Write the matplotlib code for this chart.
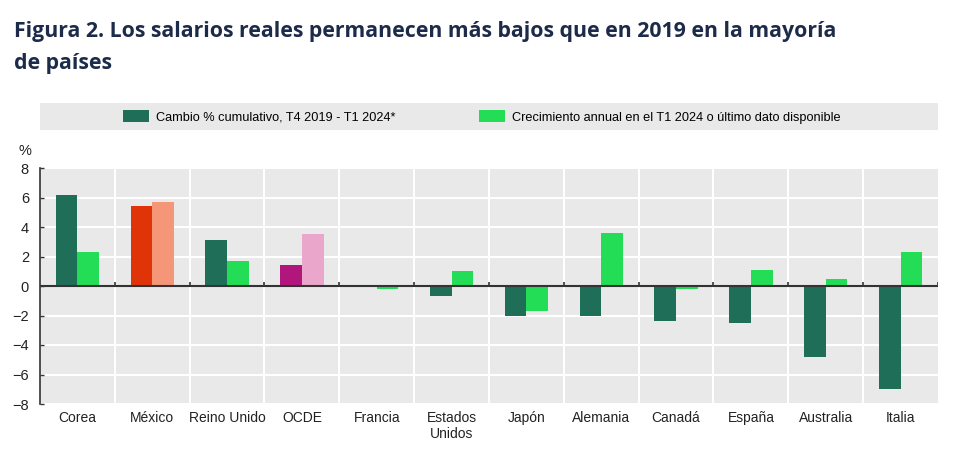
import matplotlib
matplotlib.use('Agg')
from matplotlib import pyplot as plt
from matplotlib.patches import Rectangle, Patch
import numpy as np

# values
countries = ['Corea', 'México', 'Reino Unido', 'OCDE', 'Francia', 'Estados\nUnidos',
             'Japón', 'Alemania', 'Canadá', 'España', 'Australia', 'Italia']
cumulative = [6.2, 5.4, 3.1, 1.4, 0.05, -0.7, -2.0, -2.0, -2.4, -2.5, -4.8, -7.0]
annual = [2.3, 5.7, 1.7, 3.5, -0.2, 1.0, -1.7, 3.6, -0.2, 1.1, 0.5, 2.3]

legend_labels = ['Cambio % cumulativo, T4 2019 - T1 2024*',
                 'Crecimiento annual en el T1 2024 o último dato disponible']
title = ('Figura 2. Los salarios reales permanecen más bajos que en 2019 en la mayoría\n'
         'de países')

dark_green = '#1f6e58'
light_green = '#22dd55'
# highlighted countries
special_dark = {'México': '#e03408', 'OCDE': '#b0167c'}
special_light = {'México': '#f59679', 'OCDE': '#eaa6cb'}

W, H = 968, 461
fig = plt.figure(figsize=(W / 100, H / 100), dpi=100)

chart_font = ['Liberation Sans Narrow', 'Liberation Sans', 'DejaVu Sans']

fig.text(14 / W, 1 - 21 / H, title, ha='left', va='top', fontsize=15.3,
         fontweight='bold', family=['Open Sans', 'DejaVu Sans'], color='#1d2b4a',
         linespacing=1.7)

# legend band
fig.patches.append(Rectangle((40 / W, 1 - 130 / H), 898 / W, 27 / H,
                             transform=fig.transFigure, facecolor='#e9e9e9',
                             edgecolor='none', zorder=0))
handles = [Patch(facecolor=dark_green), Patch(facecolor=light_green)]
leg = fig.legend(handles, legend_labels, loc='center left', ncol=2,
                 bbox_to_anchor=(123 / W, 1 - 117 / H), frameon=False,
                 borderpad=0, borderaxespad=0,
                 handlelength=2.0, handleheight=1.0, columnspacing=6.6,
                 handletextpad=0.55, prop={'family': chart_font, 'size': 9.2})

ax = fig.add_axes([40 / W, 1 - 404 / H, 898 / W, 236 / H])
ax.set_facecolor('#e9e9e9')

x = np.arange(len(countries))
w = 0.29
dcols = [special_dark.get(c, dark_green) for c in countries]
lcols = [special_light.get(c, light_green) for c in countries]
ax.bar(x - w / 2, cumulative, width=w, color=dcols, zorder=3)
ax.bar(x + w / 2, annual, width=w, color=lcols, zorder=3)

ax.set_xlim(-0.5, len(countries) - 0.5)
ax.set_ylim(-8, 8)
ax.set_yticks(range(-8, 9, 2))
ax.set_xticks(x)
ax.set_xticklabels(countries, family=chart_font, fontsize=10, color='#222222',
                   linespacing=1.15)
bounds = np.arange(0.5, len(countries) - 0.5, 1)
ax.set_xticks(bounds, minor=True)
ax.tick_params(axis='x', which='both', length=0, pad=5)
ax.tick_params(axis='y', direction='in', length=3, width=1, color='#333333',
               labelsize=10.5, pad=8)
for lab in ax.get_yticklabels():
    lab.set_family(chart_font)
    lab.set_color('#222222')

ax.grid(True, axis='y', which='major', color='white', linewidth=1.5, zorder=1)
ax.grid(True, axis='x', which='minor', color='white', linewidth=1.5, zorder=1)
ax.grid(False, axis='x', which='major')
ax.set_axisbelow(True)

for side in ['top', 'right', 'bottom']:
    ax.spines[side].set_visible(False)
ax.spines['left'].set_color('#333333')
ax.spines['left'].set_linewidth(1.2)

# zero line with small ticks at category boundaries
ax.axhline(0, color='#333333', linewidth=1.5, zorder=4)
ax.vlines(list(bounds) + [len(countries) - 0.5], 0, 0.3, color='#333333',
          linewidth=1.2, zorder=4)

fig.text(25 / W, 1 - 151 / H, '%', ha='center', va='center', fontsize=10.5,
         family=chart_font, color='#222222')

fig.savefig('out.png', dpi=100)
